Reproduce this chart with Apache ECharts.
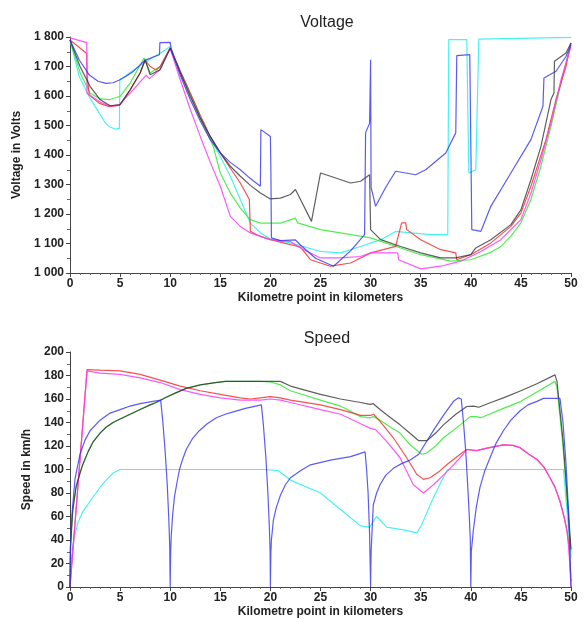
<!DOCTYPE html>
<html lang="en">
<head>
    <meta charset="UTF-8">
    <title>Voltage and speed</title>
    <script src="https://cdn.jsdelivr.net/npm/echarts@6/dist/echarts.min.js"></script>
</head>
<style type="text/css">
    body{
        margin:0;
    }
    #chart{
        width: 585px;
        height: 619px;
    }
</style>
<body>
    <div id="chart"></div>
</body>
<script type="text/javascript">
// km ticks and titles
var kmTicks = [0, 5, 10, 15, 20, 25, 30, 35, 40, 45, 50];
var seriesNames = ['Blue', 'Cyan', 'Green', 'Red', 'Magenta', 'Black'];

// voltage per train, [km, volts]
var voltBlue = [[0,1790],[0.93,1722],[1.93,1671],[2.8,1650],[3.6,1643],[4.3,1645],[4.93,1654],[5.6,1667],[6.27,1682],[6.9,1702],[7.43,1720],[7.6,1722],
    [8.3,1732],[8.93,1740],[8.97,1781],[10,1782],[10.1,1760],[11,1670],[12,1588],[13,1515],[14,1452],[15,1407],[16,1375],[17,1350],[18,1320],[19,1294],
    [19.05,1486],[20,1463],[20.05,1340],[20.1,1119],[21,1110],[22.5,1112],[23,1095],[24.5,1050],[26.3,1023],
    [28,1075],[29.4,1130],[29.5,1475],[29.9,1508],[30,1723],[30.05,1290],[30.5,1226],[31.5,1290],[32.5,1345],[34.5,1333],[35.5,1350],[37.5,1407],
    [38.5,1475],[38.6,1737],[39.9,1740],[40.1,1147],[41,1141],[42,1226],[44,1339],[46,1452],[47.2,1565],[47.3,1661],[48.5,1684],[49.5,1734],[50,1774]];
var voltCyan = [[0,1790],[0.93,1665],[1.93,1597],[2.93,1541],[3.5,1510],[3.93,1496],[4.5,1488],[4.93,1490],[4.97,1654],[6,1680],[7,1703],[8,1725],[9,1745],[10,1768],
    [11,1685],[12,1610],[13,1530],[14,1458],[15,1395],[16,1328],[17,1249],[18,1169],[19,1136],[20,1115],[22,1102],[25,1073],[27,1068],[29,1090],[31,1113],
    [32.5,1141],[34,1136],[36,1130],[37.7,1130],[37.8,1791],[39.6,1791],[39.8,1339],[40.5,1350],[40.8,1793],[50,1799]];
var voltGreen = [[0,1790],[1,1680],[2,1610],[3,1590],[4,1588],[5,1599],[6,1644],[7.4,1729],[7.5,1732],[8,1678],[9,1700],[10,1763],
    [11,1680],[12,1605],[13,1525],[14,1452],[14.3,1429],[15,1339],[16,1271],[17,1220],[18,1181],[19,1169],[21,1169],[22.5,1186],[22.7,1170],[25,1147],[27,1136],
    [30,1119],[32,1096],[35,1062],[38,1040],[40,1045],[42,1070],[43,1090],[44,1125],[45,1170],[46,1249],[47,1362],[48,1497],[49,1644],[50,1780]];
var voltRed = [[0,1790],[1.67,1744],[1.7,1671],[1.93,1603],[2.93,1575],[3.93,1564],[4.93,1568],[6,1620],[7,1678],[7.5,1722],[8,1700],[8.6,1688],[9,1700],[10,1763],
    [11,1685],[12,1610],[13,1535],[14,1463],[15,1407],[16,1355],[17,1305],[17.9,1249],[18,1141],[19,1124],[20,1113],[22,1096],[23,1088],[24,1045],[26,1023],[28,1034],
    [30,1068],[32.5,1090],[33.1,1170],[33.5,1170],[33.6,1147],[35,1113],[37,1079],[38.5,1068],[38.6,1045],[40,1062],[42,1102],[44,1158],
    [45,1203],[46,1294],[47.5,1452],[48.5,1588],[49.5,1700],[50,1780]];
var voltMagenta = [[0,1797],[1.67,1781],[1.7,1609],[2.93,1581],[3.93,1566],[4.93,1570],[6.27,1620],[7.6,1671],[7.93,1659],[8.93,1688],[10,1761],
    [11,1655],[12,1555],[13,1463],[14,1375],[15,1294],[16,1192],[17,1158],[18,1136],[20,1113],[22,1107],[23,1085],[25,1051],[27,1051],[29,1056],[30,1068],
    [32.7,1068],[32.8,1045],[35,1014],[37,1023],[39,1040],[41,1073],[43,1113],[45,1181],[46,1270],[47,1384],[48,1508],[49,1655],[50,1768]];
var voltBlack = [[0,1790],[1,1700],[2,1633],[3,1588],[4,1567],[5,1571],[6,1621],[7,1678],[7.5,1723],[8,1672],[9,1689],[10,1763],
    [11,1680],[12,1599],[13,1525],[14,1463],[15,1407],[16,1362],[17,1328],[18,1297],[19,1271],[20,1251],[21,1254],[22,1266],[22.5,1283],[24.1,1175],[25,1339],[26,1328],[28,1305],
    [29,1311],[29.9,1333],[30,1147],[31,1113],[33,1090],[35,1068],[37,1051],[38.5,1051],[40,1062],[40.5,1085],[42,1113],[44,1164],
    [45,1214],[46,1316],[47,1429],[48,1588],[48.3,1610],[48.35,1718],[49.5,1746],[50,1780]];

// speed per train, [km, km/h]
var speedBlue = [[0,0],[0.05,35],[0.2,62],[0.5,92],[1,113],[1.5,125],[2,133],[3,142],[4,148],[5,151],[6,154],[7,156],[8,157.5],[9.05,159],
    [9.27,140],[9.5,115],[9.7,88],[9.85,60],[9.95,36],[10,0],[10.05,30],[10.1,43],[10.25,62],[10.43,77],[10.7,90],[10.93,100],[11.25,109],[11.6,117],
    [12.2,126],[12.9,133],[13.7,139],[14.6,144],[15.5,147],[16.3,149],[17.5,152],[19.1,155],[19.3,138],[19.55,110],[19.75,80],[19.9,50],[19.97,30],[20,0],
    [20.05,30],[20.1,40],[20.3,57],[20.6,68],[21,78],[21.5,87],[22,93],[23,99],[24,104],[26,108],[28,111],[29.45,115],[29.6,100],[29.75,80],[29.9,45],[30,0],
    [30.05,30],[30.27,70],[30.6,80],[30.94,87],[31.5,95],[32.27,101],[33.1,105],[33.94,108],[34.8,113],[35.6,124],[36.4,135],[37.27,146],[38.27,158],
    [38.77,161],[39.05,160],[39.27,140],[39.5,115],[39.7,85],[39.85,60],[39.95,40],[40,0],[40.05,30],[40.25,48],[40.55,68],[40.92,85],[41.4,99],
    [41.92,110],[42.5,122],[43.25,133],[44,142],[44.92,150],[45.7,155],[46.6,158],[47.25,160.5],[48.9,160.5],[49.2,140],[49.5,105],[49.75,65],[49.9,30],[50,0]];
var speedCyan = [[0,0],[0.1,20],[0.25,33],[0.43,43],[0.8,55],[1.27,64],[2,73],[2.6,80],[3.1,86],[3.6,91],[4.3,97],[5,100],[19.5,100],[20.8,99],
    [22,91],[25,80],[27,66],[29,52],[29.9,51],[30.6,60],[31.6,51],[33.27,48.6],[34.6,46],[35.1,53],[35.7,65],[36.27,76],[37,89],[37.67,100],
    [49.25,100],[49.5,75],[49.8,45],[50,25]];
var speedGreen = [[0,0],[0.05,35],[0.27,65],[0.6,85],[1,97],[1.27,104],[1.8,115],[2.27,123],[3,131],[3.6,136],[4.3,140],[5,143],[6,147],[7,151],
    [8,155],[8.6,157],[9.5,161],[10.5,165],[11.6,169],[13,172],[14.5,174],[15.5,175],[19,175],[20,174.5],[21,172],[22,167],[25,159],[27,154],[29,145],
    [29.94,144],[30.27,145],[30.94,142],[32,136],[32.94,131],[33.94,121],[35.1,113],[35.6,114],[36.5,120],[37.27,127],[38.2,133],[38.94,138],
    [39.94,145],[40.6,145],[41,144],[43.25,152],[45,158],[46.6,166],[48.4,175],[48.6,170],[49.2,120],[49.6,75],[50,30]];
var speedRed = [[0,0],[1.7,185],[3,184.5],[5,184],[7,181],[9,176],[11,171],[13,167],[15,164],[17,161],[18,160],[19,161],[20,162],[21,161],[22,159],
    [25,155],[27,151],[29,146],[30,146],[30.3,147],[30.94,141],[32.27,127],[33.6,110],[34.6,96],[35.27,91.6],[35.94,93],[36.8,98],[37.6,104],
    [38.94,113],[39.6,117],[40.6,116],[41.5,118],[43.25,121],[44.2,120.5],[44.92,118.6],[45.8,113],[46.6,108.5],[47.3,102],[47.9,93],[48.4,85],
    [48.9,73],[49.3,60],[49.6,48],[49.8,35],[50,5]];
var speedMagenta = [[0,0],[1.7,184],[3,182],[5,181],[7,178],[9,174],[11,168],[13,164],[15,161],[17,159],[19,159],[20,160],[21,159],[22,157],
    [25,151],[27,147],[29,139],[30,135],[30.5,134],[31.6,124],[32.94,110],[34.27,87],[35.27,80],[36.27,87],[37.6,98],[38.94,110],[39.6,117],
    [40.6,116],[41.5,118],[43.25,121],[44.2,120.5],[44.92,118.6],[45.8,113],[46.6,108.5],[47.3,102],[47.9,93],[48.4,85],[48.9,73],[49.3,60],
    [49.6,48],[49.8,30],[49.9,15],[50,0]];
var speedBlack = [[0,0],[0.05,35],[0.27,65],[0.6,85],[1,97],[1.27,104],[1.8,115],[2.27,123],[3,131],[3.6,136],[4.3,140],[5,143],[6,147],[7,151],
    [8,155],[8.6,157],[9.5,161],[10.5,165],[11.6,169],[13,172],[14.5,174],[15.5,175],[19,175],[21,175],[22,171],[25,164],[27,160],[29,157],
    [29.94,155.5],[30.27,156],[30.94,151],[32,144],[32.94,138],[33.9,131],[34.8,124.5],[35.6,124.5],[36.5,131],[37.27,138],[38.5,147],[39.6,153.6],
    [40.27,154],[40.8,153],[42,157],[43.25,161],[45,167],[46.6,173],[48.4,180.5],[48.6,175],[49.2,125],[49.6,80],[50,32]];

var colors = ['rgba(50,50,240,0.8)', 'rgba(40,240,240,0.85)', 'rgba(50,235,50,0.85)', 'rgba(245,50,50,0.85)', 'rgba(250,60,250,0.85)', 'rgba(40,40,40,0.75)'];
var volts = [voltBlue, voltCyan, voltGreen, voltRed, voltMagenta, voltBlack];
var speeds = [speedBlue, speedCyan, speedGreen, speedRed, speedMagenta, speedBlack];

function thousands(v) {
    if (v >= 1000) {
        return Math.floor(v / 1000) + ' ' + String(v % 1000).padStart(3, '0');
    }
    return String(v);
}

var labelStyle = {color: '#222', fontSize: 12, fontWeight: 'bold', fontFamily: 'Liberation Sans, Arial'};
var nameStyle = {color: '#222', fontSize: 12, fontWeight: 'bold', fontFamily: 'Liberation Sans, Arial'};

function xAxis(idx) {
    return {
        type: 'value', gridIndex: idx, min: kmTicks[0], max: kmTicks[kmTicks.length - 1], interval: 5,
        name: 'Kilometre point in kilometers', nameLocation: 'middle', nameGap: 19,
        nameTextStyle: nameStyle,
        axisLine: {lineStyle: {color: '#444'}},
        axisTick: {length: 4, lineStyle: {color: '#444'}},
        minorTick: {show: true, splitNumber: 5, length: 2, lineStyle: {color: '#666'}},
        axisLabel: Object.assign({margin: 5}, labelStyle),
        splitLine: {show: false}
    };
}

function yAxis(idx, min, max, interval, name, gap) {
    return {
        type: 'value', gridIndex: idx, min: min, max: max, interval: interval,
        name: name, nameLocation: 'middle', nameGap: gap, nameTextStyle: nameStyle,
        axisLine: {show: true, lineStyle: {color: '#444'}},
        axisTick: {show: true, length: 4, lineStyle: {color: '#444'}},
        minorTick: {show: true, splitNumber: 2, length: 3, lineStyle: {color: '#666'}},
        axisLabel: Object.assign({margin: 6, formatter: thousands}, labelStyle),
        splitLine: {show: false}
    };
}

var series = [];
volts.forEach(function(d, i) {
    series.push({name: seriesNames[i], type: 'line', xAxisIndex: 0, yAxisIndex: 0, data: d, showSymbol: false,
        lineStyle: {color: colors[i], width: 1.2}, itemStyle: {color: colors[i]}, animation: false, z: i == 0 ? 10 : 2});
});
speeds.forEach(function(d, i) {
    series.push({name: seriesNames[i], type: 'line', xAxisIndex: 1, yAxisIndex: 1, data: d, showSymbol: false,
        lineStyle: {color: colors[i], width: 1.2}, itemStyle: {color: colors[i]}, animation: false, z: i == 0 ? 10 : 2});
});

var option = {
    backgroundColor: '#fff',
    title: [
        {text: 'Voltage', left: 322, top: 10, textAlign: 'center', textStyle: {fontSize: 16, fontWeight: 'normal', color: '#222', fontFamily: 'Liberation Sans, Arial'}},
        {text: 'Speed', left: 322, top: 326, textAlign: 'center', textStyle: {fontSize: 16, fontWeight: 'normal', color: '#222', fontFamily: 'Liberation Sans, Arial'}}
    ],
    grid: [
        {left: 70, right: 14, top: 37, height: 236},
        {left: 70, right: 14, top: 352, height: 236}
    ],
    xAxis: [xAxis(0), xAxis(1)],
    yAxis: [
        yAxis(0, 1000, 1800, 100, 'Voltage in Volts', 39),
        yAxis(1, 0, 200, 20, 'Speed in km/h', 28)
    ],
    series: series
};

var myChart = echarts.init(document.getElementById('chart'));
myChart.setOption(option);
</script>
</html>
